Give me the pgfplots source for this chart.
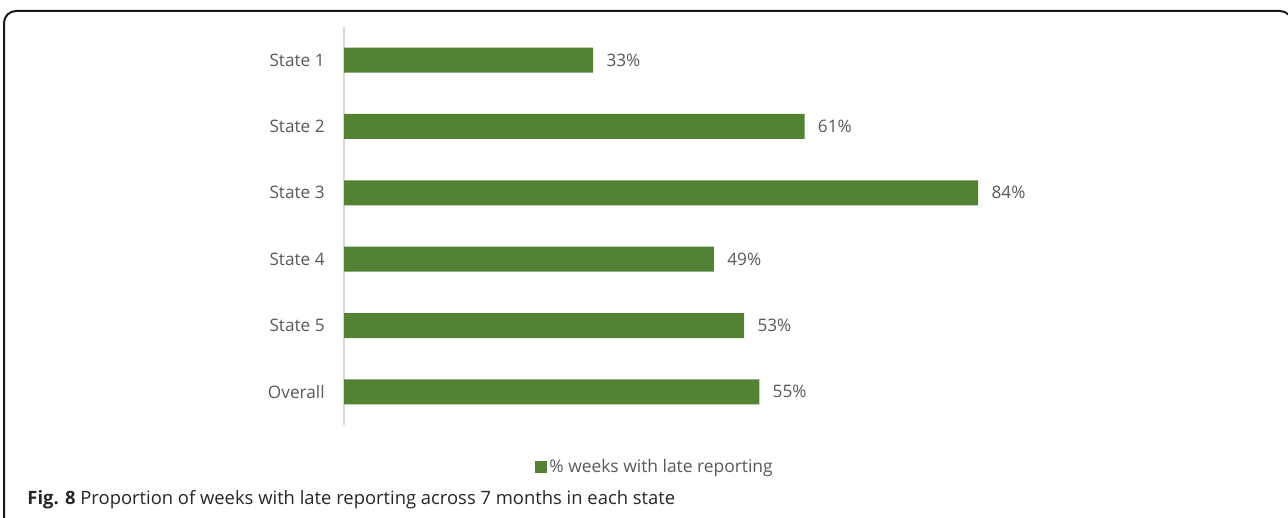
\documentclass[border=0pt]{standalone}
\usepackage{pgfplots}
\pgfplotsset{compat=1.18}
\usepackage{fontspec}
\setmainfont{Open Sans}
\definecolor{barcol}{HTML}{548235}
\definecolor{txt}{HTML}{595959}
\definecolor{axcol}{HTML}{D9D9D9}
\begin{document}
\begin{tikzpicture}
\useasboundingbox (0,0) rectangle (644pt,259pt);
\clip (0,0) rectangle (644pt,259pt);
\draw[line width=1pt, black!90, rounded corners=6pt] (2pt,-20pt) rectangle (646pt,253.5pt);
\begin{axis}[
  at={(172pt,46.5pt)}, anchor=south west,
  scale only axis, width=377.5pt, height=199pt,
  xbar, bar width=12.5pt,
  xmin=0, xmax=100, ymin=-0.5, ymax=5.5, y dir=reverse,
  axis x line=none, axis y line*=left,
  y axis line style={axcol, line width=0.6pt},
  ytick={0,1,2,3,4,5},
  yticklabels={State 1,State 2,State 3,State 4,State 5,Overall},
  major tick length=0pt,
  yticklabel style={font=\fontsize{8.6}{10}\selectfont, text=txt, inner sep=0pt, xshift=-9.5pt},
  nodes near coords={\pgfmathprintnumber[assume math mode=true]{\pgfplotspointmeta}\%},
  every node near coord/.append style={font=\fontsize{8.6}{10}\selectfont, text=txt, inner sep=0pt, anchor=west, xshift=6.5pt},
  legend style={at={(0.412,-0.1055)}, anchor=center, draw=none, fill=none,
    font=\fontsize{8.7}{10}\selectfont, text=txt, inner sep=0pt,
    nodes={inner sep=1.3pt}},
  legend image code/.code={\fill[barcol] (0pt,-3pt) rectangle (6pt,3pt);},
]
\addplot[fill=barcol, draw=none] coordinates {(33,0) (61,1) (84,2) (49,3) (53,4) (55,5)};
\addlegendentry{\% weeks with late reporting}
\end{axis}
\node[anchor=west, inner sep=0pt, font=\fontsize{9.2}{11}\selectfont, text=black!85] at (13.5pt,9pt) {\textbf{Fig. 8} Proportion of weeks with late reporting across 7 months in each state};
\end{tikzpicture}
\end{document}
